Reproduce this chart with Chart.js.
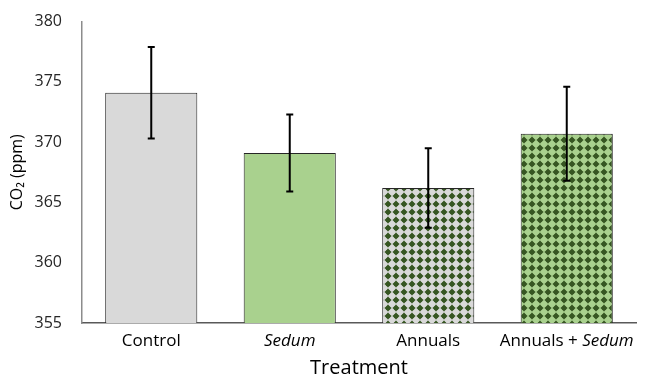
<!DOCTYPE html>
<html>
<head>
<meta charset="utf-8">
<script src="https://cdn.jsdelivr.net/npm/chart.js@4"></script>
<style>
  html, body { margin: 0; padding: 0; background: #fff; }
  #wrap { width: 653px; height: 382px; }
</style>
</head>
<body>
<div id="wrap"><canvas id="co2-chart" width="653" height="382"></canvas></div>
<script>
// datos del gráfico
const categories = ['Control', 'Sedum', 'Annuals', 'Annuals + Sedum'];
const co2Means = [374.1, 369.1, 366.2, 370.7];
const co2Errors = [3.8, 3.2, 3.3, 3.9];
const yMin = 355, yMax = 380, yStep = 5;
const italicWords = ['Sedum'];
const yTitle = 'CO\u2082 (ppm)';
const xTitle = 'Treatment';

const FONT = '"Open Sans", sans-serif';
const GREY = '#d9d9d9', LIGHT_GREEN = '#a9d18e', DARK_GREEN = '#375623';

// relleno de puntos verdes
function dotPattern(bg, dot) {
    const c = document.createElement('canvas');
    c.width = 8; c.height = 8;
    const g = c.getContext('2d');
    g.fillStyle = bg;
    g.fillRect(0, 0, 8, 8);
    g.fillStyle = dot;
    g.beginPath();
    g.arc(4, 4, 2.5, 0, Math.PI * 2);
    g.fill();
    g.fillRect(3.2, 0.8, 1.6, 6.4);
    g.fillRect(0.8, 3.2, 6.4, 1.6);
    return g.createPattern(c, 'repeat');
}

const fills = [GREY, LIGHT_GREEN, dotPattern(GREY, DARK_GREEN), dotPattern(LIGHT_GREEN, DARK_GREEN)];

// barras de error + etiquetas con cursiva
const extrasPlugin = {
    id: 'extras',
    afterDatasetsDraw(chart) {
        const ctx = chart.ctx;
        const x = chart.scales.x, y = chart.scales.y;
        ctx.save();
        ctx.strokeStyle = '#000';
        ctx.lineWidth = 2;
        co2Means.forEach((m, i) => {
            const px = x.getPixelForTick(i);
            const top = y.getPixelForValue(m + co2Errors[i]);
            const bot = y.getPixelForValue(m - co2Errors[i]);
            ctx.beginPath();
            ctx.moveTo(px, top); ctx.lineTo(px, bot);
            ctx.moveTo(px - 3.5, top); ctx.lineTo(px + 3.5, top);
            ctx.moveTo(px - 3.5, bot); ctx.lineTo(px + 3.5, bot);
            ctx.stroke();
        });
        ctx.restore();
    },
    afterDraw(chart) {
        const ctx = chart.ctx;
        const x = chart.scales.x, area = chart.chartArea;
        ctx.save();
        ctx.fillStyle = '#000';
        ctx.textBaseline = 'middle';
        categories.forEach((label, i) => {
            const parts = label.split(new RegExp('(' + italicWords.join('|') + ')')).filter(s => s);
            const fontOf = p => (italicWords.includes(p) ? 'italic ' : '') + '17px ' + FONT;
            let w = 0;
            parts.forEach(p => { ctx.font = fontOf(p); w += ctx.measureText(p).width; });
            let cx = x.getPixelForTick(i) - w / 2;
            parts.forEach(p => {
                ctx.font = fontOf(p);
                ctx.textAlign = 'left';
                ctx.fillText(p, cx, area.bottom + 18);
                cx += ctx.measureText(p).width;
            });
        });
        ctx.font = '20px ' + FONT;
        ctx.textAlign = 'center';
        ctx.fillText(xTitle, (area.left + area.right) / 2, area.bottom + 45);
        ctx.translate(17, (area.top + area.bottom) / 2);
        ctx.rotate(-Math.PI / 2);
        ctx.font = '16px ' + FONT;
        ctx.fillText(yTitle, 0, 0);
        ctx.restore();
    }
};

new Chart(document.getElementById('co2-chart'), {
    type: 'bar',
    data: {
        labels: categories,
        datasets: [{
            data: co2Means,
            backgroundColor: fills,
            borderColor: '#262626',
            borderWidth: 1,
            borderSkipped: 'bottom',
            categoryPercentage: 1,
            barPercentage: 0.665
        }]
    },
    options: {
        responsive: false,
        animation: false,
        layout: { padding: { top: 18, right: 17, left: 0, bottom: 0 } },
        plugins: { legend: { display: false }, tooltip: { enabled: false } },
        scales: {
            x: {
                grid: { display: false },
                border: { color: '#595959', width: 1.5 },
                ticks: { color: 'transparent', font: { size: 15 } },
                afterFit: s => { s.height = 59; }
            },
            y: {
                min: yMin, max: yMax,
                grid: { display: false },
                border: { color: '#8c8c8c', width: 1.5 },
                ticks: { stepSize: yStep, color: '#262626', padding: 12, font: { family: FONT, size: 16 } },
                afterFit: s => { s.width = 82; }
            }
        }
    },
    plugins: [extrasPlugin]
});
</script>
</body>
</html>
